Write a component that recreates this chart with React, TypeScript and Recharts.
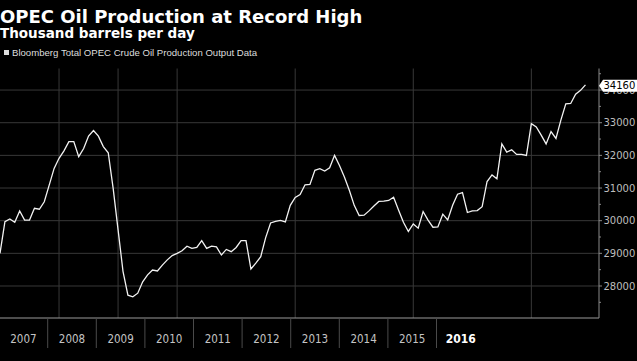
import React from 'react';
import { LineChart, Line, XAxis, YAxis, CartesianGrid } from 'recharts';

// monthly OPEC crude output, Jan 2007 .. Dec 2016 (thousand b/d)
const production = [
  29000, 29970, 30050, 29950, 30300, 30020, 30020, 30380, 30350, 30580, 31090, 31600,
  31910, 32140, 32420, 32420, 31960, 32210, 32590, 32760, 32590, 32270, 32080, 30990,
  29720, 28450, 27720, 27670, 27780, 28130, 28340, 28490, 28460, 28640, 28800, 28930,
  29000, 29080, 29220, 29150, 29180, 29390, 29150, 29220, 29200, 28950, 29120, 29050,
  29180, 29390, 29390, 28520, 28700, 28900, 29480, 29930, 29980, 30010, 29960, 30470,
  30710, 30800, 31100, 31110, 31540, 31590, 31520, 31620, 32000, 31690, 31340, 30930,
  30470, 30160, 30170, 30300, 30450, 30590, 30600, 30620, 30720, 30330, 29950, 29670,
  29900, 29770, 30280, 30020, 29800, 29810, 30200, 30020, 30470, 30810, 30860, 30250,
  30300, 30310, 30430, 31200, 31400, 31280, 32350, 32100, 32170, 32030, 32030, 32000,
  32970, 32870, 32620, 32350, 32730, 32520, 33080, 33580, 33590, 33870, 33990, 34160,
];

const yearLabels = [2007, 2008, 2009, 2010, 2011, 2012, 2013, 2014, 2015, 2016];
const gridMonths = [12, 24, 36, 60, 84, 108];
const gridValues = [28000, 29000, 30000, 31000, 32000, 33000, 34000];
const axisTicks = [27500, 28000, 28500, 29000, 29500, 30000, 30500, 31000, 31500, 32000, 32500, 33000, 33500, 34000, 34500];

const data = production.map((v, i) => ({ m: i, v }));
const yearRows = yearLabels.map((yr) => ({ yr, v: null }));
const lastValue = production[production.length - 1];
const bandTicks = yearLabels.flatMap((y, i) => (i < yearLabels.length - 1 ? [y, y + 0.5] : [y]));

const ValueTick = (props: any) => {
  const { x, y, payload } = props;
  const v = payload.value;
  if (v === lastValue) {
    const cy = y + 1;
    return (
      <g>
        <polygon points={`${x},${cy} ${x + 4},${cy - 6} ${x + 38},${cy - 6} ${x + 38},${cy + 6} ${x + 4},${cy + 6}`} fill="#fff" />
        <text x={x + 4.5} y={cy} dy="0.36em" fill="#000" fontSize={10} fontFamily="DejaVu Sans">{v}</text>
      </g>
    );
  }
  const major = v % 1000 === 0;
  return (
    <g>
      <line x1={x} x2={x + (major ? 3 : 2)} y1={y} y2={y} stroke="#888" />
      {major && (
        <text x={x + 4.5} y={y} dy="0.36em" fill="#bdbdbd" fontSize={10} fontFamily="DejaVu Sans">{v}</text>
      )}
    </g>
  );
};

const YearTick = (props: any) => {
  const { x, y, payload } = props;
  const v = payload.value;
  if (v % 1 !== 0) {
    return <line x1={x} x2={x} y1={y} y2={y + 30} stroke="#4a4a4a" />;
  }
  const current = v === yearLabels[yearLabels.length - 1];
  return (
    <text x={x} y={y + 21} dy="0.36em" textAnchor="middle" fill={current ? '#fff' : '#c4c4c4'}
      fontSize={current ? 12 : 11.5} fontWeight={current ? 'bold' : 'normal'}
      fontFamily="'Liberation Sans Narrow', 'DejaVu Sans Condensed', sans-serif">
      {v}
    </text>
  );
};

export default function App() {
  return (
    <div style={{ position: 'absolute', left: 0, top: 0, width: 637, height: 361, background: '#000', overflow: 'hidden' }}>
      <div style={{ position: 'absolute', left: 0, top: 8, color: '#fff', fontFamily: 'DejaVu Sans', fontWeight: 'bold', fontSize: 18, lineHeight: '18px', whiteSpace: 'nowrap' }}>
        OPEC Oil Production at Record High
      </div>
      <div style={{ position: 'absolute', left: 0, top: 27, color: '#fff', fontFamily: 'DejaVu Sans', fontWeight: 'bold', fontSize: 13.5, lineHeight: '13.5px', whiteSpace: 'nowrap' }}>
        Thousand barrels per day
      </div>
      <div style={{ position: 'absolute', left: 4, top: 47.5, color: '#ddd', fontFamily: 'Liberation Sans', fontSize: 9.6, lineHeight: '9.6px', whiteSpace: 'nowrap', display: 'flex', alignItems: 'center' }}>
        <span style={{ display: 'inline-block', width: 5, height: 5, background: '#ddd', marginRight: 3 }} />
        Bloomberg Total OPEC Crude Oil Production Output Data
      </div>
      <LineChart width={637} height={361} data={data} margin={{ top: 68.5, right: 0, bottom: 0, left: 0 }}>
        <CartesianGrid xAxisId="m" yAxisId="v" stroke="#383838" horizontalValues={gridValues} verticalValues={gridMonths} />
        <XAxis xAxisId="m" dataKey="m" type="number" orientation="top" height={0} domain={[0, 121.75]} allowDataOverflow hide />
        <XAxis xAxisId="yr" dataKey="yr" type="number" domain={[2006.5185, 2018.8435]} allowDataOverflow ticks={bandTicks}
          interval={0} height={43} tickSize={0} tickMargin={0} tickLine={false}
          axisLine={{ stroke: '#9a9a9a' }} tick={<YearTick />} />
        <YAxis yAxisId="v" orientation="right" width={38} type="number" domain={[27020, 34660]} allowDataOverflow
          ticks={[...axisTicks, lastValue]} interval={0} tickSize={0} tickMargin={0} tickLine={false}
          axisLine={{ stroke: '#8a8a8a' }} tick={<ValueTick />} />
        <Line xAxisId="yr" yAxisId="v" data={yearRows} dataKey="v" stroke="none" dot={false} activeDot={false} isAnimationActive={false} />
        <Line xAxisId="m" yAxisId="v" type="linear" dataKey="v" stroke="#f2f2f2" strokeWidth={1.3} dot={false} isAnimationActive={false} />
      </LineChart>
    </div>
  );
}
